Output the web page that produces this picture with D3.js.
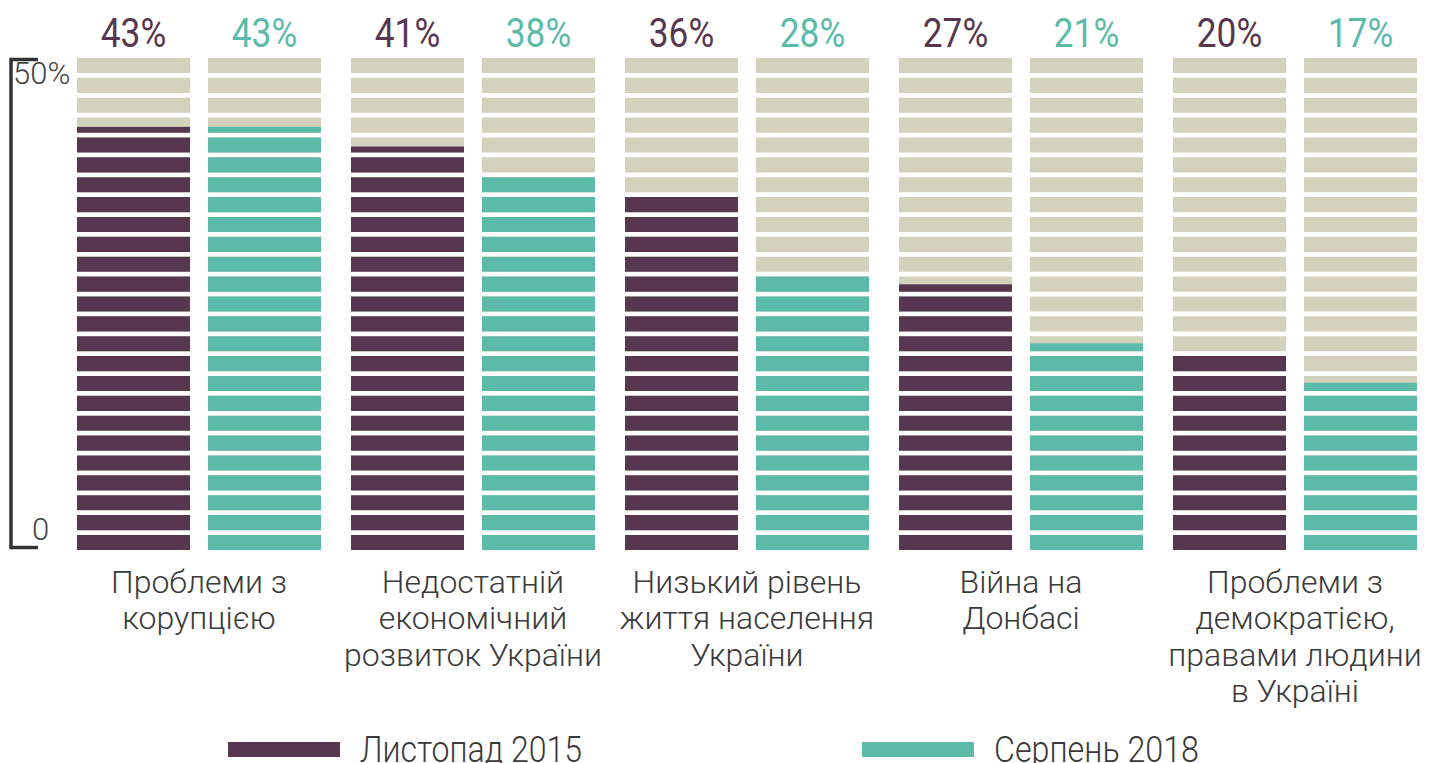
<!DOCTYPE html>
<html>
<head>
<meta charset="utf-8">
<script src="https://cdn.jsdelivr.net/npm/d3@7"></script>
<style>
  body { margin: 0; background: #fff; }
  svg { display: block; font-family: Roboto, "Open Sans", sans-serif; }
</style>
</head>
<body>
<svg id="chart"></svg>
<script>
// data
const categories = [
  ['Проблеми з', 'корупцією'],
  ['Недостатній', 'економічний', 'розвиток України'],
  ['Низький рівень', 'життя населення', 'України'],
  ['Війна на', 'Донбасі'],
  ['Проблеми з', 'демократією,', 'правами людини', 'в Україні']
];
const seriesNames = ['Листопад 2015', 'Серпень 2018'];
const values2015 = [43, 41, 36, 27, 20];
const values2018 = [43, 38, 28, 21, 17];
const yTicks = [0, 50];

const colors = ['#57374f', '#5cbba8'];
const beige = '#d3d2bd';

function drawChart() {
  const width = 1432, height = 763;
  const svg = d3.select('#chart')
    .attr('width', width)
    .attr('height', height);

  const y = d3.scaleLinear().domain([0, 50]).range([550, 58]);

  const x0 = d3.scaleBand()
    .domain(d3.range(categories.length))
    .range([77, 1417])
    .paddingInner(0.1095)
    .paddingOuter(0);

  const x1 = d3.scaleBand()
    .domain([0, 1])
    .range([0, x0.bandwidth()])
    .paddingInner(0.137);

  // 25 stripes, each one 2%
  const stripes = d3.scaleBand()
    .domain(d3.range(25))
    .range([y(0), y(50)])
    .paddingInner(0.245);

  svg.append('clipPath').attr('id', 'stripes')
    .selectAll('rect')
    .data(stripes.domain()).enter()
    .append('rect')
    .attr('x', 0)
    .attr('width', width)
    .attr('y', d => stripes(d))
    .attr('height', stripes.bandwidth());

  const rows = categories.map((c, i) => [values2015[i], values2018[i]]);

  const groups = svg.append('g')
    .attr('clip-path', 'url(#stripes)')
    .selectAll('g.group')
    .data(rows).enter()
    .append('g')
    .classed('group', true)
    .attr('transform', (d, i) => `translate(${x0(i)},0)`);

  // beige background
  groups.selectAll('rect.bg')
    .data(d => d).enter()
    .append('rect')
    .classed('bg', true)
    .attr('x', (d, j) => x1(j))
    .attr('width', x1.bandwidth())
    .attr('y', y(50))
    .attr('height', y(0) - y(50))
    .attr('fill', beige);

  groups.selectAll('rect.val')
    .data(d => d).enter()
    .append('rect')
    .classed('val', true)
    .attr('x', (d, j) => x1(j))
    .attr('width', x1.bandwidth())
    .attr('y', d => y(d))
    .attr('height', d => y(0) - y(d))
    .attr('fill', (d, j) => colors[j]);

  // value labels on top
  const labels = svg.append('g');
  rows.forEach((r, i) => {
    r.forEach((v, j) => {
      const cx = x0(i) + x1(j) + x1.bandwidth() / 2;
      labels.append('text')
        .attr('transform', `translate(${cx},47) scale(0.86,1)`)
        .attr('text-anchor', 'middle')
        .attr('font-weight', 400)
        .attr('font-size', 41)
        .attr('fill', colors[j])
        .text(v + '%');
    });
  });

  // axis bracket
  const axis = svg.append('g');
  axis.append('path')
    .attr('d', `M38,${y(50) + 1.5}H11V${y(0) - 2.5}H38`)
    .attr('fill', 'none')
    .attr('stroke', '#333')
    .attr('stroke-width', 3.5);
  axis.selectAll('text')
    .data(yTicks).enter()
    .append('text')
    .attr('x', d => d === 0 ? 32 : 13)
    .attr('y', d => d === 0 ? y(d) - 10 : y(d) + 26)
    .attr('font-size', 31)
    .attr('font-weight', 300)
    .attr('fill', '#444')
    .text(d => d === 0 ? '0' : d + '%');

  // category labels
  svg.append('g').selectAll('text')
    .data(categories).enter()
    .append('text')
    .attr('text-anchor', 'middle')
    .attr('font-size', 32)
    .attr('font-weight', 300)
    .attr('fill', '#3a3a3a')
    .attr('x', (d, i) => x0(i) + x0.bandwidth() / 2)
    .each(function (d) {
      d3.select(this).selectAll('tspan')
        .data(d).enter()
        .append('tspan')
        .attr('x', d3.select(this).attr('x'))
        .attr('y', (t, k) => 593 + k * 36.3)
        .text(t => t);
    });

  // legend
  const legendX = [228, 862];
  const legend = svg.append('g').selectAll('g')
    .data(seriesNames).enter()
    .append('g')
    .attr('transform', (d, i) => `translate(${legendX[i]},0)`);
  legend.append('rect')
    .attr('x', 0).attr('y', 742)
    .attr('width', 112).attr('height', 15)
    .attr('fill', (d, i) => colors[i]);
  legend.append('text')
    .attr('x', 132).attr('y', 762)
    .attr('font-size', 36)
    .attr('font-weight', 300)
    .attr('fill', '#3a3a3a')
    .attr('textLength', (d, i) => i === 0 ? 222 : 205)
    .attr('lengthAdjust', 'spacingAndGlyphs')
    .text(d => d);
}

drawChart();
</script>
</body>
</html>
